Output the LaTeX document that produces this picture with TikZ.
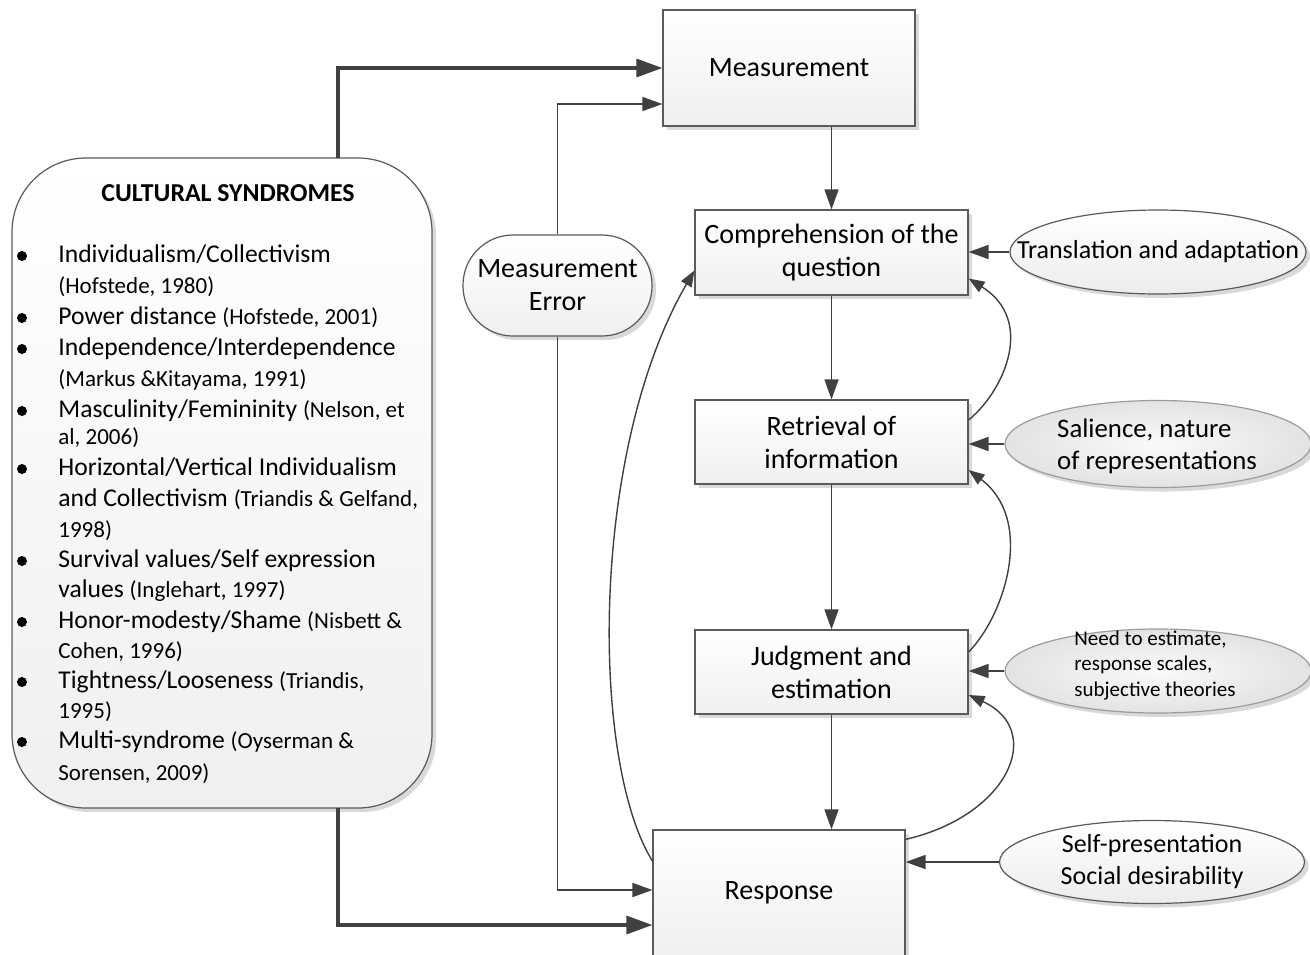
\documentclass[tikz,border=0pt]{standalone}
\usepackage{fontspec}
\setmainfont{Carlito}
\usetikzlibrary{arrows.meta,shapes.geometric,shadows,calc}
\definecolor{ln}{HTML}{404040}
\definecolor{bd}{HTML}{5A5A5A}
\newcommand\refsz[1]{{\fontsize{11.5}{14}\selectfont #1}}
\begin{document}
\begin{tikzpicture}[x=0.5pt,y=-0.5pt,
  boxfont/.style={font=\fontsize{14}{16.5}\selectfont},
  ellfont/.style={font=\fontsize{13}{16}\selectfont},
  softshadow/.style={drop shadow={shadow xshift=2pt,shadow yshift=-2pt,fill=black,opacity=0.15}},
  procbox/.style={draw=bd,line width=0.6pt,rectangle,top color=white,bottom color=gray!12,softshadow,align=center,inner sep=0pt,boxfont},
  plainell/.style={ellipse,draw=bd,line width=0.6pt,top color=white,bottom color=gray!15,softshadow,inner sep=0pt},
  texell/.style={ellipse,draw=bd!60,line width=0.6pt,inner color=gray!4,outer color=gray!22,softshadow,inner sep=0pt},
  listline/.style={anchor=base west,inner sep=0pt,font=\fontsize{12.8}{15}\selectfont},
  thinarrow/.style={draw=ln,line width=0.8pt,-{Triangle[length=10pt,width=7pt]}},
  thickarrow/.style={draw=ln,line width=1.6pt,-{Triangle[length=13pt,width=9pt]}},
  curvearrow/.style={draw=ln,line width=0.7pt,-{Triangle[length=8pt,width=6pt]}}
]
\clip (0,0) rectangle (1310,954);
\fill[white] (0,0) rectangle (1310,954);

% process boxes
\node[procbox,minimum width=126pt,minimum height=58pt] (meas) at (789,68) {Measurement};
\node[procbox,minimum width=136.5pt,minimum height=42.5pt] (comp) at (831.5,252.5) {Comprehension of the\\question};
\node[procbox,minimum width=136.5pt,minimum height=42pt] (ret) at (831.5,442) {Retrieval of\\information};
\node[procbox,minimum width=136.5pt,minimum height=42pt] (judg) at (831.5,672) {Judgment and\\estimation};
\node[procbox,minimum width=126pt,minimum height=63pt] (resp) at (779,893) {Response};

% measurement error
\node[draw=bd,line width=0.6pt,rounded corners=25pt,minimum width=94.5pt,minimum height=50.5pt,top color=white,bottom color=gray!12,softshadow,align=center,inner sep=0pt,boxfont] (me) at (557.5,285.5) {Measurement\\Error};

% cultural syndromes
\node[draw=bd,line width=0.6pt,rounded corners=37pt,minimum width=210pt,minimum height=325pt,top color=white,bottom color=gray!12,softshadow,inner sep=0pt] (cs) at (222,483) {};
\node[font=\bfseries\fontsize{12.9}{15}\selectfont] (title) at (228,193) {CULTURAL SYNDROMES};
\foreach \yy/\txt [count=\i] in {
  255/{Individualism/Collectivism},
  286/{\refsz{(Hofstede, 1980)}},
  317/{Power distance \refsz{(Hofstede, 2001)}},
  348/{Independence/Interdependence},
  379/{\refsz{(Markus \&Kitayama, 1991)}},
  410/{Masculinity/Femininity \refsz{(Nelson, et}},
  437/{\refsz{al, 2006)}},
  468/{Horizontal/Vertical Individualism},
  499/{and Collectivism \refsz{(Triandis \& Gelfand,}},
  530/{\refsz{1998)}},
  560/{Survival values/Self expression},
  590/{values \refsz{(Inglehart, 1997)}},
  621/{Honor-modesty/Shame \refsz{(Nisbett \&}},
  651/{\refsz{Cohen, 1996)}},
  681/{Tightness/Looseness \refsz{(Triandis,}},
  711/{\refsz{1995)}},
  741/{Multi-syndrome \refsz{(Oyserman \&}},
  773/{\refsz{Sorensen, 2009)}}}
  {\node[listline] (line\i) at (58,\yy+7) {\txt};}
\foreach \yy [count=\i] in {256,318,349,411,469,561,622,682,742}
  {\node[circle,fill=black,inner sep=0pt,minimum size=5pt] (bul\i) at (22,\yy) {};}
\coordinate (cstop) at (338,158);
\coordinate (csbot) at (338,808);

% ellipses
\node[plainell,minimum width=148pt,minimum height=42pt] (trans) at (1158,252) {};
\node[ellfont,inner sep=0pt] (transtxt) at (1158,252) {Translation and adaptation};
\node[texell,minimum width=153pt,minimum height=43.5pt] (sal) at (1158,444) {};
\node[font=\fontsize{13.4}{16}\selectfont,align=left,inner sep=0pt] (saltxt) at (1157,446) {Salience, nature\\of representations};
\node[texell,minimum width=153pt,minimum height=42pt] (need) at (1158,671) {};
\node[font=\fontsize{10.5}{12.75}\selectfont,align=left,inner sep=0pt] (needtxt) at (1155,665) {Need to estimate,\\response scales,\\subjective theories};
\node[plainell,minimum width=152.5pt,minimum height=41.5pt] (selfp) at (1152,862) {};
\node[ellfont,align=center,inner sep=0pt] (selftxt) at (1152,862) {Self-presentation\\Social desirability};

% connectors
\draw[thickarrow] (cstop) |- (meas.west);
\draw[thickarrow] (csbot) |- ([yshift=-16pt]resp.west);
\draw[thinarrow] (me.north) |- ([yshift=-18pt]meas.west);
\draw[thinarrow] (me.south) |- ([yshift=1.5pt]resp.west);
\draw[thinarrow] (meas.south -| comp.north) -- (comp.north);
\draw[thinarrow] (comp.south) -- (ret.north);
\draw[thinarrow] (ret.south) -- (judg.north);
\draw[thinarrow] (judg.south) -- (judg.south |- resp.north);
\draw[thinarrow] (trans.west) -- (trans.west -| comp.east);
\draw[thinarrow] (sal.west) -- (sal.west -| ret.east);
\draw[thinarrow] (need.west) -- (need.west -| judg.east);
\draw[thinarrow] (selfp.west) -- (selfp.west -| resp.east);
\draw[curvearrow] ([yshift=11pt]ret.east) .. controls (1005,390) and (1035,320) .. ([yshift=-13pt]comp.east);
\draw[curvearrow] ([yshift=10pt]judg.east) .. controls (1005,615) and (1035,520) .. ([yshift=-14pt]ret.east);
\draw[curvearrow] ([yshift=-5pt]resp.north east) .. controls (1010,815) and (1045,730) .. ([yshift=-11.5pt]judg.east);
\draw[curvearrow] ([yshift=16pt]resp.west) .. controls (590,760) and (590,450) .. ([yshift=-9pt]comp.west);
\end{tikzpicture}
\end{document}
